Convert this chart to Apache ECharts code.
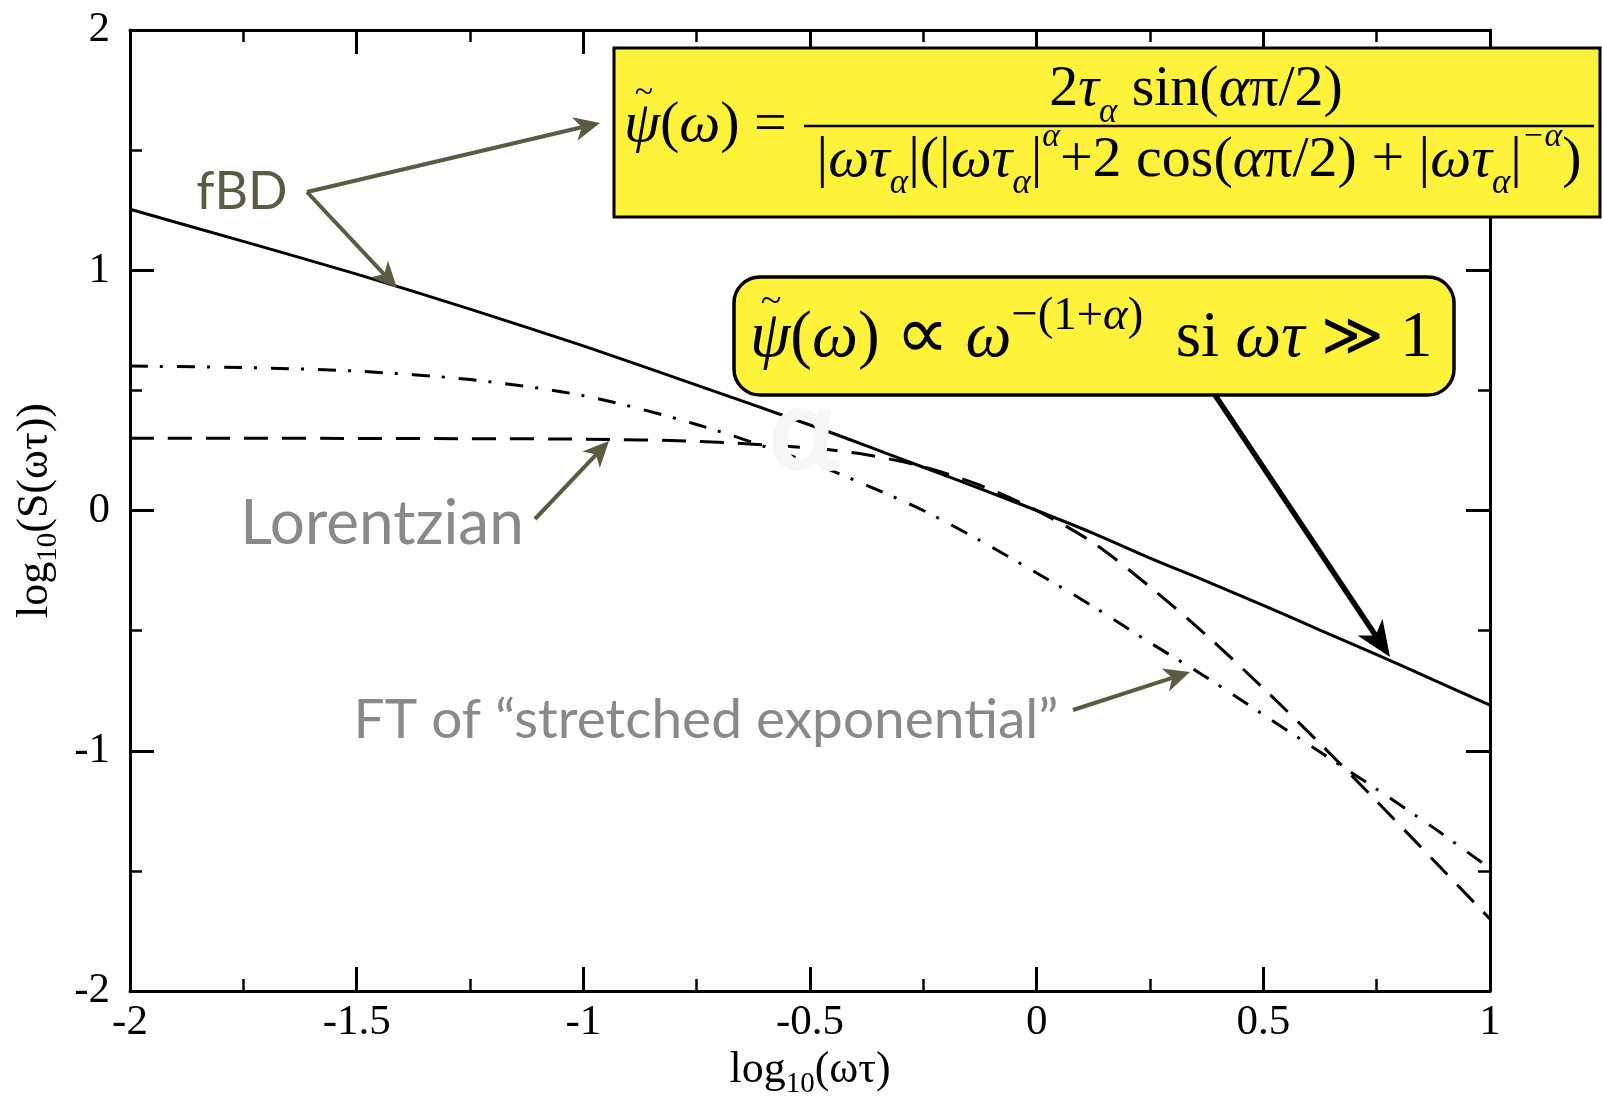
<!DOCTYPE html>
<html>
<head>
<meta charset="utf-8">
<script src="https://cdn.jsdelivr.net/npm/echarts@6/dist/echarts.min.js"></script>
<style>
  html, body { margin: 0; padding: 0; background: #ffffff; }
  #chart { width: 1602px; height: 1101px; }
</style>
</head>
<body>
<div id="chart"></div>
<script>
// log10(ωτ) sample positions shared by the three spectra
const logOmegaTau = [-2, -1.75, -1.5, -1.25, -1, -0.75, -0.5, -0.375, -0.25, -0.125,
  0, 0.125, 0.25, 0.375, 0.5, 0.625, 0.75, 0.875, 1];

// log10(S(ωτ)) for each model
const fbdSpectrum = [1.254, 1.12, 0.984, 0.838, 0.685, 0.522, 0.356, 0.269, 0.180, 0.091,
  0.0, -0.095, -0.198, -0.295, -0.395, -0.498, -0.60, -0.705, -0.81];
const stretchedExpSpectrum = [0.601, 0.595, 0.580, 0.545, 0.478, 0.358, 0.200, 0.105, 0.0, -0.125,
  -0.26, -0.40, -0.55, -0.695, -0.85, -1.005, -1.16, -1.32, -1.49];
const lorentzianSpectrum = [0.301, 0.301, 0.300, 0.299, 0.297, 0.288, 0.260, 0.232, 0.182, 0.105,
  0.0, -0.135, -0.318, -0.52, -0.74, -0.97, -1.21, -1.455, -1.70];

// axis ticks
const xTicks = [-2, -1.5, -1, -0.5, 0, 0.5, 1];
const yTicks = [-2, -1, 0, 1, 2];

const pairs = (ys) => logOmegaTau.map((x, i) => [x, ys[i]]);

const SERIF = "'Liberation Serif', 'DejaVu Serif', serif";
const SANS = "Lato, 'Open Sans', sans-serif";
const OLIVE = '#5c5a40';
const GREY = '#898989';
const YELLOW = '#fff23a';

function tickAxis(extra) {
  return Object.assign({
    type: 'value',
    axisLine: { show: true, onZero: false, lineStyle: { color: '#000', width: 3 } },
    axisTick: { show: true, inside: true, length: 24, lineStyle: { color: '#000', width: 3 } },
    minorTick: { show: true, splitNumber: 2, length: 12, lineStyle: { color: '#000', width: 2.5 } },
    splitLine: { show: false },
    minorSplitLine: { show: false }
  }, extra);
}

const labelStyle = { fontFamily: SERIF, fontSize: 43, color: '#000' };
const nameRich = {
  a: { fontFamily: SERIF, fontSize: 44, lineHeight: 56, color: '#000' },
  s: { fontFamily: SERIF, fontSize: 29, lineHeight: 30, verticalAlign: 'bottom', color: '#000' }
};

const xMin = xTicks[0], xMax = xTicks[xTicks.length - 1], xStep = xTicks[1] - xTicks[0];
const yMin = yTicks[0], yMax = yTicks[yTicks.length - 1], yStep = yTicks[1] - yTicks[0];

// arrow = shaft + notched head
function arrow(x1, y1, x2, y2, color, width, len, half) {
  const dx = x2 - x1, dy = y2 - y1, L = Math.hypot(dx, dy);
  const ux = dx / L, uy = dy / L, nx = -uy, ny = ux;
  const bx = x2 - ux * len, by = y2 - uy * len;
  const mx = x2 - ux * len * 0.72, my = y2 - uy * len * 0.72;
  return [
    { type: 'line', z: 60, shape: { x1: x1, y1: y1, x2: mx, y2: my },
      style: { stroke: color, lineWidth: width, lineCap: 'butt' } },
    { type: 'polygon', z: 60,
      shape: { points: [[x2, y2], [bx + nx * half, by + ny * half], [mx, my], [bx - nx * half, by - ny * half]] },
      style: { fill: color } }
  ];
}

const mathRich = (size) => ({
  r: { fontFamily: SERIF, fontSize: size, lineHeight: size * 1.4, fill: '#000' },
  i: { fontFamily: SERIF, fontStyle: 'italic', fontSize: size, lineHeight: size * 1.4, fill: '#000' },
  rel: { fontFamily: "'DejaVu Serif', serif", fontSize: size * 0.92, lineHeight: size * 1.4, fill: '#000' },
  prop: { fontFamily: "'DejaVu Sans', sans-serif", fontSize: size * 1.15, lineHeight: size * 1.4, fill: '#000' },
  sub: { fontFamily: SERIF, fontStyle: 'italic', fontSize: size * 0.6, lineHeight: size * 0.86, verticalAlign: 'bottom', fill: '#000' },
  sup: { fontFamily: SERIF, fontStyle: 'italic', fontSize: size * 0.58, lineHeight: size * 0.8, verticalAlign: 'top', fill: '#000' },
  supr: { fontFamily: SERIF, fontSize: size * 0.72, lineHeight: size * 0.76, verticalAlign: 'top', fill: '#000' },
  supi: { fontFamily: SERIF, fontStyle: 'italic', fontSize: size * 0.72, lineHeight: size * 0.76, verticalAlign: 'top', fill: '#000' }
});

// tilde accent placed over a psi
const tilde = (x, y, size) => ({ type: 'text', z: 57, x: x, y: y,
  style: { text: '~', fontFamily: SERIF, fontSize: size, fill: '#000', align: 'center', verticalAlign: 'middle' } });

const graphics = [
  // exact fBD kernel, framed
  { type: 'rect', z: 55, shape: { x: 614, y: 48, width: 986, height: 169 },
    style: { fill: YELLOW, stroke: '#000', lineWidth: 3 } },
  { type: 'text', z: 56, x: 624, y: 126,
    style: { text: '{i|ψ}{r|(}{i|ω}{r|) =}', rich: mathRich(58), align: 'left', verticalAlign: 'middle' } },
  tilde(644, 93, 34),
  { type: 'text', z: 56, x: 1196, y: 90,
    style: { text: '{r|2}{i|τ}{sub|α}{r| sin(}{i|α}{r|π/2)}', rich: mathRich(58), align: 'center', verticalAlign: 'middle' } },
  { type: 'line', z: 56, shape: { x1: 804, y1: 126, x2: 1594, y2: 126 }, style: { stroke: '#000', lineWidth: 2.5 } },
  { type: 'text', z: 56, x: 1199, y: 161,
    style: { text: '{r||}{i|ωτ}{sub|α}{r||(|}{i|ωτ}{sub|α}{r||}{sup|α}{r|+2 cos(}{i|α}{r|π/2) + |}{i|ωτ}{sub|α}{r||}{sup|−α}{r|)}',
      rich: mathRich(58), align: 'center', verticalAlign: 'middle' } },

  // high-frequency asymptote, rounded frame
  { type: 'rect', z: 55, shape: { x: 734, y: 277, width: 720, height: 118, r: 26 },
    style: { fill: YELLOW, stroke: '#000', lineWidth: 3.5 } },
  { type: 'text', z: 56, x: 750, y: 339,
    style: { text: '{i|ψ}{r|(}{i|ω}{r|) }{prop|∝}{r| }{i|ω}{supr|−(1+}{supi|α}{supr|)}{r|  si }{i|ωτ}{r| }{rel|≫}{r| 1}',
      rich: mathRich(65), align: 'left', verticalAlign: 'middle' } },
  tilde(771, 302, 38),

  // white alpha over the crossing region
  { type: 'text', z: 57, x: 804, y: 432,
    style: { text: 'α', fontFamily: SANS, fontWeight: 'bold', fontSize: 118, fill: '#f6f6f9', align: 'center', verticalAlign: 'middle' } },

  // curve captions
  { type: 'text', z: 56, x: 242, y: 192,
    style: { text: 'fBD', fontFamily: SANS, fontSize: 52, fill: OLIVE, align: 'center', verticalAlign: 'middle' } },
  { type: 'text', z: 56, x: 382, y: 524,
    style: { text: 'Lorentzian', fontFamily: SANS, fontSize: 62, fill: GREY, align: 'center', verticalAlign: 'middle' } },
  { type: 'text', z: 56, x: 706, y: 720,
    style: { text: 'FT of “stretched exponential”', fontFamily: SANS, fontSize: 55, fill: GREY, align: 'center', verticalAlign: 'middle' } }
].concat(
  arrow(307, 192, 600, 123, OLIVE, 4, 26, 12),
  arrow(307, 192, 397, 288, OLIVE, 4, 26, 12),
  arrow(535, 519, 609, 441, OLIVE, 4, 26, 12),
  arrow(1073, 710, 1190, 672, OLIVE, 4, 26, 12),
  arrow(1215, 395, 1390, 657, '#000', 5.5, 36, 15)
);

const option = {
  animation: false,
  backgroundColor: '#ffffff',
  grid: { left: 130, right: 112, top: 30, bottom: 110, containLabel: false, outerBoundsMode: 'none' },
  xAxis: [
    tickAxis({
      position: 'bottom', min: xMin, max: xMax, interval: xStep,
      axisLabel: Object.assign({ margin: 10 }, labelStyle),
      name: '{a|log}{s|10}{a|(ωτ)}', nameLocation: 'middle', nameGap: 48,
      nameTextStyle: { fontFamily: SERIF, fontSize: 44, color: '#000', rich: nameRich }
    }),
    tickAxis({ position: 'top', min: xMin, max: xMax, interval: xStep, axisLabel: { show: false } })
  ],
  yAxis: [
    tickAxis({
      position: 'left', min: yMin, max: yMax, interval: yStep,
      axisLabel: Object.assign({ margin: 20 }, labelStyle),
      name: '{a|log}{s|10}{a|(S(ωτ))}', nameLocation: 'middle', nameGap: 62, nameRotate: 90,
      nameTextStyle: { fontFamily: SERIF, fontSize: 44, color: '#000', rich: nameRich }
    }),
    tickAxis({ position: 'right', min: yMin, max: yMax, interval: yStep, axisLabel: { show: false } })
  ],
  series: [
    { name: 'fBD', type: 'line', data: pairs(fbdSpectrum), smooth: 0.3, showSymbol: false,
      lineStyle: { color: '#000', width: 3 }, z: 3 },
    { name: 'FT of stretched exponential', type: 'line', data: pairs(stretchedExpSpectrum), smooth: 0.3, showSymbol: false,
      lineStyle: { color: '#000', width: 3, type: [18, 12, 3, 14] }, z: 3 },
    { name: 'Lorentzian', type: 'line', data: pairs(lorentzianSpectrum), smooth: 0.3, showSymbol: false,
      lineStyle: { color: '#000', width: 3, type: [24, 14] }, z: 3 }
  ],
  graphic: graphics
};

const chart = echarts.init(document.getElementById('chart'), null, { renderer: 'canvas' });
chart.setOption(option);
</script>
</body>
</html>
